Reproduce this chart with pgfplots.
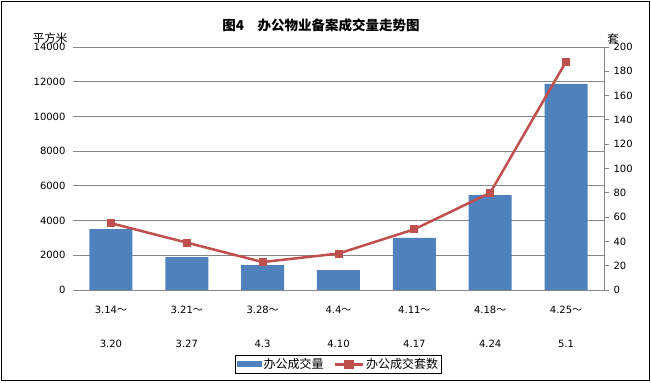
\documentclass[border=0pt]{standalone}
\usepackage{pgfplots}
\pgfplotsset{compat=1.18}
\usepackage{fontspec}
\setmainfont{DejaVu Sans}
\newfontfamily\cjk{Noto Sans CJK SC}
\definecolor{barblue}{HTML}{4F81BD}
\definecolor{linered}{HTML}{C0504D}
\definecolor{gridgray}{HTML}{868686}
\begin{document}
\begin{tikzpicture}
\useasboundingbox (0pt,0pt) rectangle (651pt,383pt);
\draw[black, line width=1.2pt] (1.5pt,2.5pt) rectangle (649.5pt,381.5pt);
\node[font=\cjk\bfseries\fontsize{13.5}{15}\selectfont] at (321pt,358pt) {图4\quad 办公物业备案成交量走势图};
\begin{axis}[
  at={(73pt,93pt)}, anchor=south west, scale only axis,
  width=531pt, height=243pt,
  xmin=-0.5, xmax=6.5, ymin=0, ymax=14000,
  axis line style={draw=none},
  ymajorgrids, grid style={gridgray, line width=0.8pt},
  ytick={0,2000,...,14000},
  scaled y ticks=false,
  xtick={0,...,6},
  xtick style={draw=none}, ytick style={draw=none},
  /pgf/number format/1000 sep={},
  /pgf/number format/assume math mode=true,
  tick label style={font=\fontsize{10}{12}\selectfont},
  yticklabel style={xshift=-4pt},
  xticklabel style={align=center, yshift=-13pt},
  xticklabels={
    {3.14{\cjk～}\\[22pt]3.20},
    {3.21{\cjk～}\\[22pt]3.27},
    {3.28{\cjk～}\\[22pt]4.3},
    {4.4{\cjk～}\\[22pt]4.10},
    {4.11{\cjk～}\\[22pt]4.17},
    {4.18{\cjk～}\\[22pt]4.24},
    {4.25{\cjk～}\\[22pt]5.1}},
  legend style={at={(0.5,-0.306)}, anchor=center, draw=black, line width=0.8pt,
    font=\cjk\fontsize{12}{13}\selectfont, legend columns=2,
    /tikz/every even column/.append style={column sep=8pt},
    inner sep=1.5pt},
]
\addplot[ybar, bar width=43pt, fill=barblue, draw=none,
  legend image code/.code={\fill[barblue] (0pt,-3pt) rectangle (25pt,3pt);}]
  coordinates {(0,3510) (1,1900) (2,1440) (3,1150) (4,3000) (5,5470) (6,11870)};
\addlegendentry{办公成交量}
\addlegendimage{linered, line width=2.5pt,
  legend image code/.code={\draw[linered, line width=2.5pt] (0pt,0pt) -- (28pt,0pt); \fill[linered] (10.5pt,-3.5pt) rectangle (17.5pt,3.5pt);}}
\addlegendentry{办公成交套数}
\end{axis}
\begin{axis}[
  at={(73pt,93pt)}, anchor=south west, scale only axis,
  width=531pt, height=243pt,
  xmin=-0.5, xmax=6.5, ymin=0, ymax=200,
  axis x line=none, axis y line*=right,
  y axis line style={gridgray, line width=0.8pt, -},
  ytick={0,20,...,200},
  ytick style={gridgray, line width=0.8pt},
  tick align=outside, major tick length=5pt,
  /pgf/number format/assume math mode=true,
  tick label style={font=\fontsize{10}{12}\selectfont},
  yticklabel style={xshift=1pt},
]
\addplot[linered, line width=2.5pt, mark=square*, mark size=3.5pt, mark options={fill=linered, line width=0pt}]
  coordinates {(0,55) (1,39) (2,23) (3,30) (4,50) (5,80) (6,188)};
\end{axis}
\node[font=\cjk\fontsize{11.5}{13}\selectfont] at (50pt,345pt) {平方米};
\node[font=\cjk\fontsize{11.5}{13}\selectfont] at (613pt,344pt) {套};
\end{tikzpicture}
\end{document}
